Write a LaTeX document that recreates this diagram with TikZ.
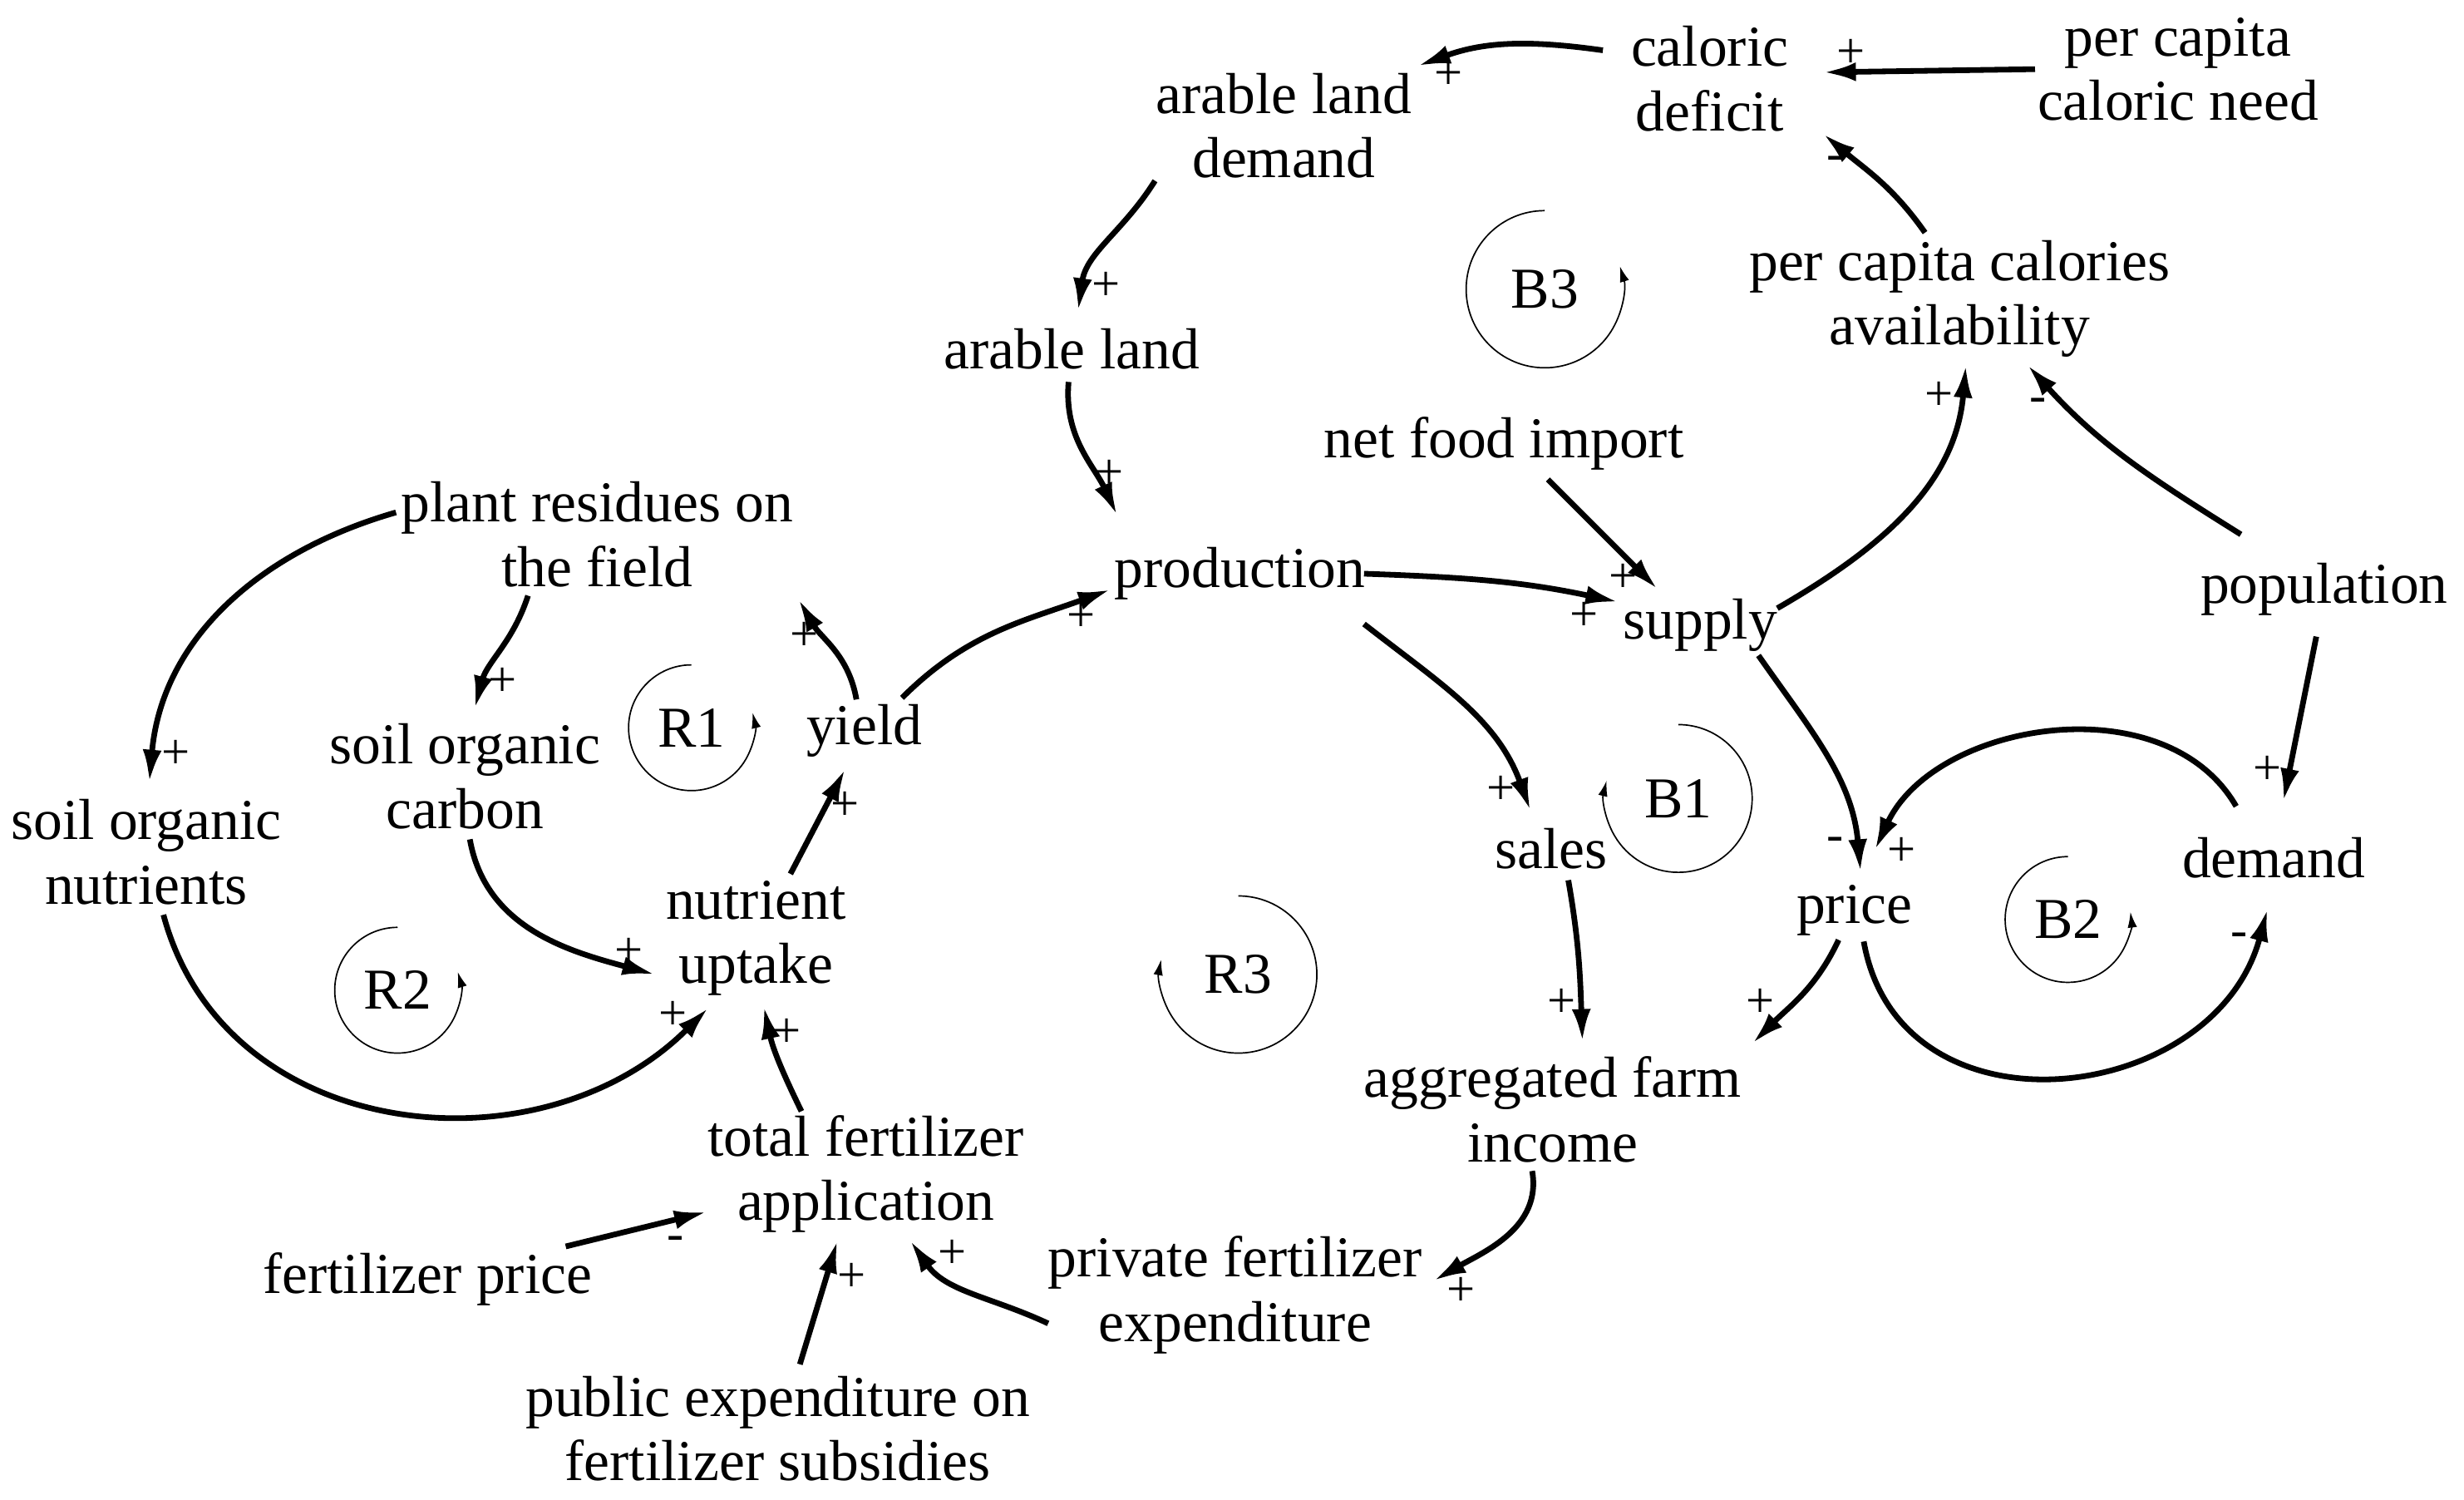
\documentclass[tikz,border=0pt]{standalone}
\usepackage{fontspec}
\setmainfont{Liberation Serif}
\usetikzlibrary{arrows.meta,calc}
\begin{document}
\begin{tikzpicture}[x=0.5pt,y=0.5pt,
  var/.style={align=center,inner sep=0pt,font=\fontsize{18.4}{20.5}\selectfont},
  sgn/.style={inner sep=0pt,font=\fontsize{16}{16}\selectfont},
  lab/.style={inner sep=0pt,font=\fontsize{18.4}{20.5}\selectfont},
  arr/.style={line width=1.8pt,-{Latex[length=10.5pt,width=6pt]}},
  loopc/.style={line width=0.45pt,-{Latex[length=5pt,width=3pt]}}]
\path[use as bounding box,fill=white] (0,0) rectangle (1568,-954);
% variables
\node[var] (cd)    at (1088,-50)  {caloric\\deficit};
\node[var] (ald)   at (817,-80)   {arable land\\demand};
\node[var] (pcn)   at (1386,-44)  {per capita\\caloric need};
\node[var] (pca)   at (1247,-190) {per capita calories\\availability};
\node[var] (al)    at (682,-222)  {arable land};
\node[var] (nfi)   at (957,-282)  {net food import};
\node[var] (prod)  at (789,-365)  {production};
\node[var] (prf)   at (380,-340)  {plant residues on\\the field};
\node[var] (sup)   at (1082,-398) {supply};
\node[var] (pop)   at (1479,-375) {population};
\node[var] (yld)   at (550,-465)  {yield};
\node[var] (soc)   at (296,-494)  {soil organic\\carbon};
\node[var] (son)   at (93,-542)   {soil organic\\nutrients};
\node[var] (sales) at (987,-540)  {sales};
\node[var] (price) at (1180,-579) {price};
\node[var] (dem)   at (1447,-546) {demand};
\node[var] (nu)    at (481,-597)  {nutrient\\uptake};
\node[var] (afi)   at (988,-706)  {aggregated farm\\income};
\node[var] (tfa)   at (551,-747)  {total fertilizer\\application};
\node[var] (fp)    at (272,-814)  {fertilizer price};
\node[var] (pfe)   at (786,-824)  {private fertilizer\\expenditure};
\node[var] (pub)   at (495,-909)  {public expenditure on\\fertilizer subsidies};
% loop labels
\node[lab] (B3) at (983,-184) {B3};
\node[lab] (R1) at (440,-463) {R1};
\node[lab] (R2) at (253,-630) {R2};
\node[lab] (R3) at (788,-620) {R3};
\node[lab] (B1) at (1068,-508) {B1};
\node[lab] (B2) at (1316,-585) {B2};
\draw[loopc] ($(B3)+(0,50)$) arc[start angle=90,end angle=377,radius=50];
\draw[loopc] ($(R1)+(0,40)$) arc[start angle=90,end angle=374,radius=40];
\draw[loopc] ($(R2)+(0,40)$) arc[start angle=90,end angle=377,radius=40];
\draw[loopc] ($(R3)+(0,50)$) arc[start angle=90,end angle=-191,radius=50];
\draw[loopc] ($(B1)+(0,47)$) arc[start angle=90,end angle=-194,radius=47];
\draw[loopc] ($(B2)+(0,40)$) arc[start angle=90,end angle=367,radius=40];
% links
\draw[arr] ($(cd)+(-68,18)$) to[out=172,in=20] ($(ald)+(85,38)$);
\draw[arr] ($(pcn)+(-91,0)$) -- ($(cd)+(72,4)$);
\draw[arr] ($(pca)+(-22,42)$) to[out=125,in=-40] ($(cd)+(72,-35)$);
\draw[arr] ($(ald)+(-82,-35)$) to[out=-122,in=82] ($(al)+(4,24)$);
\draw[arr] ($(al)+(-2,-21)$) to[out=-95,in=115] ($(prod)+(-78,37)$);
\draw[arr] ($(nfi)+(28,-23)$) -- ($(sup)+(-27,23)$);
\draw[arr] ($(prod)+(79,0)$) to[out=-2,in=168] ($(sup)+(-52,15)$);
\draw[arr] ($(sup)+(49,11)$) to[out=30,in=-95] ($(pca)+(4,-42)$);
\draw[arr] ($(pop)+(-53,35)$) to[out=148,in=-48] ($(pca)+(43,-42)$);
\draw[arr] ($(prod)+(79,-32)$) to[out=-38,in=110] ($(sales)+(-13,24)$);
\draw[arr] ($(sup)+(37,-19)$) to[out=-55,in=95] ($(price)+(4,24)$);
\draw[arr] ($(dem)+(-24,33)$) to[out=120,in=65] ($(price)+(13,38)$);
\draw[arr] ($(pop)+(-5,-30)$) -- ($(dem)+(6,36)$);
\draw[arr] ($(price)+(6,-20)$) to[out=-80,in=-105,looseness=1.3] ($(dem)+(-4,-32)$);
\draw[arr] ($(price)+(-10,-19)$) to[out=-115,in=45] ($(afi)+(127,42)$);
\draw[arr] ($(sales)+(11,-20)$) to[out=-80,in=92] ($(afi)+(19,43)$);
\draw[arr] ($(afi)+(-13,-39)$) to[out=-80,in=30] ($(pfe)+(126,9)$);
\draw[arr] ($(pfe)+(-119,-18)$) to[out=155,in=-55] ($(tfa)+(28,-42)$);
\draw[arr] ($(pub)+(14,41)$) -- ($(tfa)+(-18,-42)$);
\draw[arr] ($(fp)+(88,21)$) -- ($(tfa)+(-101,-24)$);
\draw[arr] ($(tfa)+(-41,40)$) to[out=116,in=-78] ($(nu)+(5,-43)$);
\draw[arr] ($(son)+(11,-40)$) to[out=-75,in=-135,looseness=1.1] ($(nu)+(-30,-44)$);
\draw[arr] ($(soc)+(3,-40)$) to[out=-80,in=165] ($(nu)+(-64,-23)$);
\draw[arr] ($(nu)+(22,41)$) -- ($(yld)+(-12,-24)$);
\draw[arr] ($(yld)+(-5,20)$) to[out=100,in=-60] ($(prf)+(128,-41)$);
\draw[arr] ($(yld)+(24,21)$) to[out=45,in=-160] ($(prod)+(-82,-10)$);
\draw[arr] ($(prf)+(-44,-39)$) to[out=-108,in=75] ($(soc)+(6,43)$);
\draw[arr] ($(prf)+(-128,14)$) to[out=196,in=85] ($(son)+(2,44)$);
% polarity signs
\node[sgn] (s1)  at (922,-48)   {+};
\node[sgn] (s2)  at (1178,-34)  {+};
\node[sgn] (s3)  at (1168,-104) {-};
\node[sgn] (s4)  at (704,-182)  {+};
\node[sgn] (s5)  at (706,-302)  {+};
\node[sgn] (s6)  at (1033,-368) {+};
\node[sgn] (s7)  at (1008,-392) {+};
\node[sgn] (s8)  at (1234,-252) {+};
\node[sgn] (s9)  at (1297,-258) {-};
\node[sgn] (s10) at (955,-503)  {+};
\node[sgn] (s11) at (1168,-537) {-};
\node[sgn] (s12) at (1210,-542) {+};
\node[sgn] (s13) at (1443,-490) {+};
\node[sgn] (s14) at (1425,-598) {-};
\node[sgn] (s15) at (1120,-638) {+};
\node[sgn] (s16) at (994,-638)  {+};
\node[sgn] (s17) at (930,-822)  {+};
\node[sgn] (s18) at (606,-798)  {+};
\node[sgn] (s19) at (542,-813)  {+};
\node[sgn] (s20) at (430,-791)  {-};
\node[sgn] (s21) at (501,-657)  {+};
\node[sgn] (s22) at (428,-646)  {+};
\node[sgn] (s23) at (400,-606)  {+};
\node[sgn] (s24) at (538,-513)  {+};
\node[sgn] (s25) at (512,-405)  {+};
\node[sgn] (s26) at (688,-393)  {+};
\node[sgn] (s27) at (320,-434)  {+};
\node[sgn] (s28) at (112,-480)  {+};
\end{tikzpicture}
\end{document}
